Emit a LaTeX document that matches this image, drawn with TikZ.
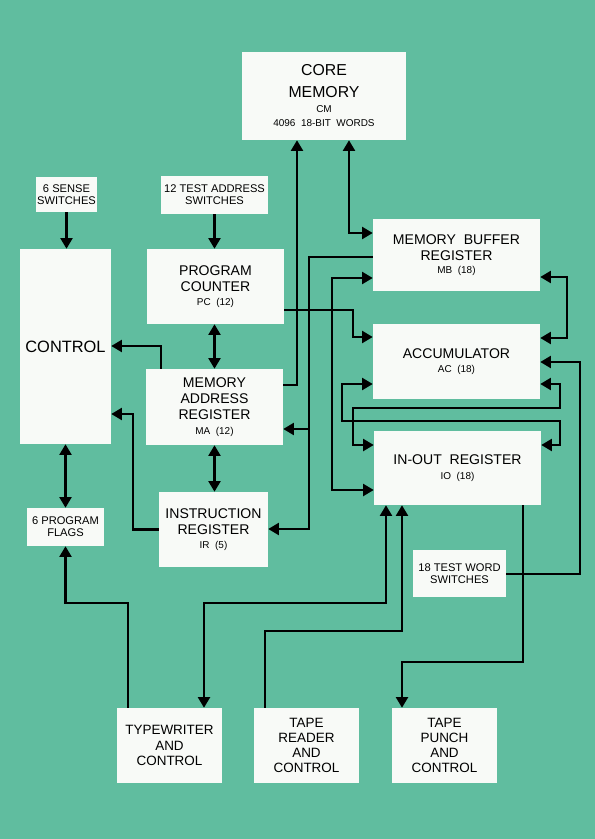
\documentclass[tikz,border=0pt]{standalone}
\usepackage{fontspec}
\setmainfont{Liberation Sans}
\usepackage{tikz}
\usetikzlibrary{arrows.meta}
\definecolor{board}{RGB}{96,189,159}
\definecolor{card}{RGB}{248,250,247}
\newcommand{\regsize}[1]{{\fontsize{8.5}{9}\selectfont #1}}

\begin{document}
\begin{tikzpicture}[x=0.03cm,y=-0.03cm,
  box/.style={fill=card,inner sep=0pt,align=center,font=\fontsize{12}{13.5}\selectfont},
  switchbox/.style={box,font=\fontsize{9.5}{10.5}\selectfont},
  devbox/.style={box,minimum width=3.15cm,minimum height=2.25cm,font=\fontsize{11.5}{13}\selectfont},
  link/.style={line width=2.3pt,>={Triangle[length=9pt,width=10pt]}}]
\fill[board] (0,0) rectangle (595,839);

\node[box,minimum width=4.92cm,minimum height=2.64cm,font=\fontsize{13.5}{16}\selectfont] (cm) at (324,96) {CORE\\[2.5pt]MEMORY\\[-3pt]\regsize{CM}\\[-4pt]\regsize{4096\ \ 18-BIT\ \ WORDS}};
\node[switchbox,minimum width=1.83cm,minimum height=1.05cm] (sense) at (66.5,194.5) {6 SENSE\\SWITCHES};
\node[switchbox,minimum width=3.21cm,minimum height=1.14cm] (addr) at (214.5,195) {12 TEST ADDRESS\\SWITCHES};
\node[box,minimum width=2.73cm,minimum height=5.85cm,font=\fontsize{14}{16}\selectfont] (control) at (65.5,346.5) {CONTROL};
\node[box,minimum width=4.11cm,minimum height=2.25cm] (pc) at (215.5,286.5) {PROGRAM\\COUNTER\\[-2pt]\regsize{PC\ \ (12)}};
\node[box,minimum width=4.11cm,minimum height=2.28cm] (ma) at (214.5,407) {MEMORY\\ADDRESS\\REGISTER\\[-1pt]\regsize{MA\ \ (12)}};
\node[box,minimum width=3.27cm,minimum height=2.25cm] (ir) at (213.5,529.5) {INSTRUCTION\\REGISTER\\[-2pt]\regsize{IR\ \ (5)}};
\node[switchbox,minimum width=2.31cm,minimum height=1.14cm] (flags) at (65.5,527) {6 PROGRAM\\FLAGS};
\node[box,minimum width=5.01cm,minimum height=2.16cm] (mb) at (456.5,255) {MEMORY\ \ BUFFER\\REGISTER\\[-2pt]\regsize{MB\ \ (18)}};
\node[box,minimum width=5.01cm,minimum height=2.25cm] (ac) at (456.5,361.5) {ACCUMULATOR\\[-2pt]\regsize{AC\ \ (18)}};
\node[box,minimum width=5.01cm,minimum height=2.22cm] (io) at (457.5,468) {IN-OUT\ \ REGISTER\\[-1pt]\regsize{IO\ \ (18)}};
\node[switchbox,minimum width=2.79cm,minimum height=1.41cm] (word) at (459.5,573.5) {18 TEST WORD\\SWITCHES};
\node[devbox] (tw) at (169.5,745.5) {TYPEWRITER\\AND\\CONTROL};
\node[devbox] (tr) at (306.5,745.5) {TAPE\\READER\\AND\\CONTROL};
\node[devbox] (tp) at (444.5,745.5) {TAPE\\PUNCH\\AND\\CONTROL};

\draw[link,->] (sense.south) -- (sense.south |- control.north);
\draw[link,->] (addr.south) -- (addr.south |- pc.north);
\draw[link,<->] (cm.south -| 349,0) |- (mb.west |- 0,233);
\draw[link,->] (ma.east |- 0,385) -| (cm.south -| 297,0);
\coordinate (mbsplit) at (309,429);
\draw[link,->] (mb.west |- 0,257) -| (309,529) -- (ir.east |- 0,529);
\draw[link,->] (mbsplit) -- (ma.east |- mbsplit);
\draw[link,<->] (ma.north) -- (ma.north |- pc.south);
\draw[link,<->] (ma.south) -- (ma.south |- ir.north);
\draw[link,->] (ma.north -| 161,0) |- (control.east |- 0,346);
\draw[link,->] (ir.west) -| (133,414) -- (control.east |- 0,414);
\draw[link,<->] (control.south) -- (flags.north);
\draw[link,->] (tw.north -| 128,0) |- (flags.south |- 0,603) -- (flags.south);
\draw[link,->] (pc.east |- 0,310) -| (353,337) -- (ac.west |- 0,337);
\draw[link,<->] (mb.west |- 0,278) -| (332,490) -- (io.west |- 0,490);
\draw[link,<->] (mb.east |- 0,277) -| (567,338) -- (ac.east |- 0,338);
\draw[link,<->] (ac.east |- 0,384) -| (560,408) -| (353,445) -- (io.west |- 0,445);
\draw[link,<->] (ac.west |- 0,384) -| (342,421) -| (560,445) -- (io.east |- 0,445);
\draw[link,->] (word.east |- 0,574) -| (580,362) -- (ac.east |- 0,362);
\draw[link,->] (io.south -| 523,0) |- (402,662) -- (tp.north -| 402,0);
\draw[link,->] (tr.north -| 265,0) |- (402,631) -- (io.south -| 402,0);
\draw[link,<->] (io.south -| 386,0) |- (204,603) -- (tw.north -| 204,0);
\end{tikzpicture}
\end{document}
